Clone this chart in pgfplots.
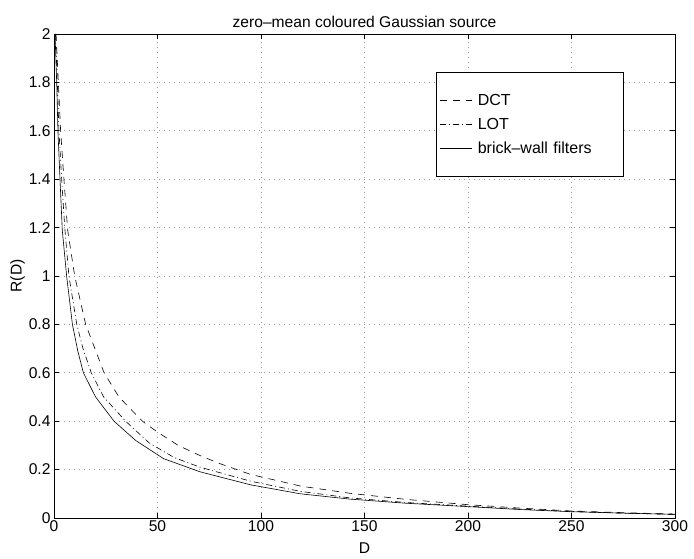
\documentclass[border=0pt]{standalone}
\usepackage{pgfplots}
\pgfplotsset{compat=1.18}
\usepackage{fontspec}
\setmainfont{Liberation Sans}
\newcommand{\fnt}{\fontsize{15.6pt}{18pt}\selectfont}
\begin{document}
\begin{tikzpicture}
\path (-54pt,-41pt) rectangle (640pt,518pt);
\begin{axis}[
  at={(0,0)}, anchor=south west,
  scale only axis, width=621pt, height=484pt,
  xmin=0, xmax=300, ymin=0, ymax=2,
  xtick={0,50,...,300},
  ytick={0,0.2,...,2.01},
  yticklabel style={/pgf/number format/.cd, fixed, precision=1},
  /pgf/number format/assume math mode=true,
  tick align=inside, tick pos=both,
  major tick length=5pt,
  grid=major,
  major grid style={black!40, dash pattern=on 1pt off 4pt, line width=0.6pt},
  axis line style={black, line width=0.6pt},
  tick style={black, line width=0.6pt},
  font=\fnt,
  ticklabel style={font=\fnt},
  xticklabel style={yshift=1pt},
  title={zero\textendash mean coloured Gaussian source},
  title style={font=\fnt, yshift=-3pt},
  xlabel={D}, ylabel={R(D)},
  label style={font=\fnt},
  xlabel style={yshift=-4pt},
  ylabel style={yshift=-3pt},
  legend style={at={(0.615,0.9215)}, anchor=north west, draw=black, fill=white,
    line width=0.6pt, row sep=7pt, inner xsep=3pt, inner ysep=20pt,
    font=\fontsize{16pt}{19pt}\selectfont,
    /tikz/every even column/.append style={text width=140pt}},
  legend cell align=left,
  legend image code/.code={\draw[#1] (0pt,0pt) -- (32pt,0pt); \path (36pt,0pt);},
]
\addplot[black, line width=0.6pt, dash pattern=on 7pt off 6pt] coordinates {
(1,2.0) (2.1,1.8) (3.2,1.6) (4.8,1.4) (6.6,1.19) (10,1.0) (15.3,0.8) (24.2,0.6) (31.4,0.5) (42.7,0.4) (50,0.355) (60,0.3) (70,0.26) (80,0.225) (95,0.18) (119,0.132) (143,0.102) (170,0.077) (200,0.055) (225,0.041) (250,0.029) (275,0.022) (300,0.016)
};
\addlegendentry{DCT}
\addplot[black, line width=0.6pt, dash pattern=on 6pt off 3pt on 1pt off 3pt] coordinates {
(0.7,2.0) (1.6,1.8) (2.4,1.6) (3.7,1.4) (5.2,1.2) (7.2,1.0) (11,0.8) (14,0.7) (18,0.6) (24,0.5) (34.6,0.4) (46,0.31) (58,0.25) (70.5,0.21) (95,0.152) (119,0.11) (143,0.083) (170,0.064) (200,0.049) (225,0.037) (250,0.027) (275,0.02) (300,0.015)
};
\addlegendentry{LOT}
\addplot[black, line width=0.6pt] coordinates {
(0.5,2.0) (1.3,1.8) (1.9,1.6) (2.9,1.4) (4.0,1.19) (6.1,1.0) (8.9,0.8) (11.5,0.69) (14.2,0.6) (20.1,0.5) (29,0.4) (39.5,0.32) (53,0.245) (70.5,0.191) (95,0.137) (119,0.1) (143,0.078) (170,0.061) (200,0.047) (225,0.035) (250,0.026) (275,0.02) (300,0.015)
};
\addlegendentry{brick\textendash wall filters}
\end{axis}
\end{tikzpicture}
\end{document}
